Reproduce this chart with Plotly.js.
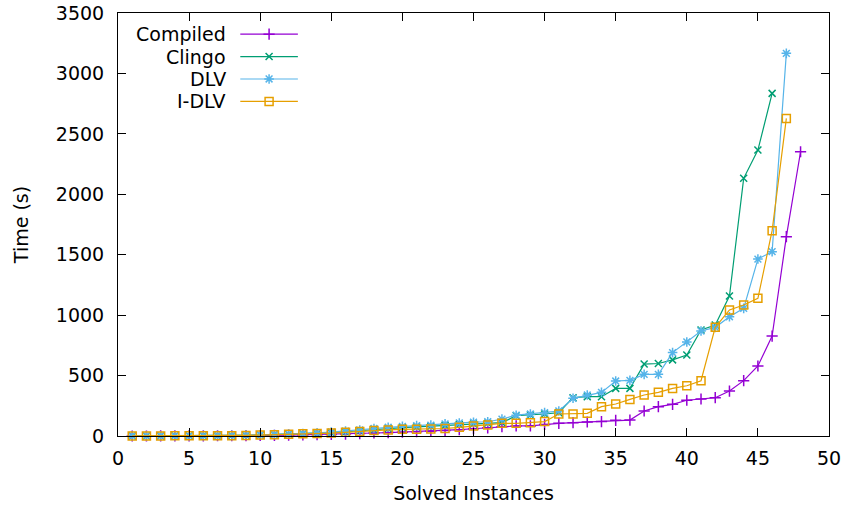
<!DOCTYPE html>
<html>
<head>
<meta charset="utf-8">
<script src="https://cdn.plot.ly/plotly-3.0.1.min.js"></script>
<style>html,body{margin:0;padding:0;background:#fff;}#chart{width:847px;height:506px;}</style>
</head>
<body>
<div id="chart"></div>
<script>
const seriesNames = ["Compiled", "Clingo", "DLV", "I-DLV"];
const compiled = [0,0,1,1,1,1,2,2,3,4,5,7,9,11,13,16,20,25,28,32,36,40,45,52,60,68,77,83,83,96,105,110,116,119,130,132,207,243,262,296,306,317,372,458,579,827,1649,2352];
const clingo = [1,1,1,2,2,3,3,4,6,9,12,15,19,23,28,35,44,55,63,70,75,80,88,95,100,105,110,168,173,182,193,317,325,325,394,394,595,600,630,670,877,918,1158,2132,2366,2835];
const dlv = [1,1,2,2,3,3,4,5,7,10,13,17,21,26,32,40,50,62,72,80,86,90,100,108,114,118,140,172,182,193,207,312,339,361,455,460,510,510,690,778,869,899,987,1056,1464,1525,3166];
const idlv = [1,1,1,2,2,2,3,3,5,8,10,14,18,20,24,30,38,46,50,55,56,58,62,72,83,92,105,105,110,119,182,182,188,243,265,303,339,361,394,416,457,899,1043,1084,1139,1699,2628];
const xTicks = [0,5,10,15,20,25,30,35,40,45,50];
const yTicks = [0,500,1000,1500,2000,2500,3000,3500];

const allValues = [compiled, clingo, dlv, idlv];
const colors = ["#9400d3", "#009e73", "#56b4e9", "#e69f00"];
const symbols = ["cross-thin-open", "x-thin-open", "asterisk-open", "square-open"];
const msizes = [8, 7, 8, 8];
const FS = 19;

const traces = allValues.map((vals, i) => ({
  x: vals.map((_, k) => k + 1),
  y: vals,
  type: "scatter",
  mode: "lines+markers",
  name: seriesNames[i],
  line: {color: colors[i], width: 1.2},
  marker: {symbol: symbols[i], size: msizes[i], color: colors[i], line: {color: colors[i], width: 1.5}},
  showlegend: false,
  cliponaxis: false,
  xaxis: "x", yaxis: "y"
}));

// gnuplot-style legend: text on the left, sample on the right
const legendTop = 0.95, legendStep = 0.053;
seriesNames.forEach((nm, i) => {
  const yy = legendTop - i * legendStep;
  traces.push({
    x: [0.172, 0.2125, 0.253], y: [yy, yy, yy],
    type: "scatter", mode: "lines", line: {color: colors[i], width: 1.2},
    xaxis: "x2", yaxis: "y2", showlegend: false, hoverinfo: "skip"
  });
  traces.push({
    x: [0.2125], y: [yy],
    type: "scatter", mode: "markers",
    marker: {symbol: symbols[i], size: msizes[i], color: colors[i], line: {color: colors[i], width: 1.5}},
    xaxis: "x2", yaxis: "y2", showlegend: false, hoverinfo: "skip"
  });
});

const annotations = seriesNames.map((nm, i) => ({
  xref: "x2", yref: "y2", x: 0.155, y: legendTop - i * legendStep,
  text: nm, showarrow: false, xanchor: "right", yanchor: "middle",
  font: {family: "DejaVu Sans", size: FS, color: "#000"}
}));

const axisCommon = {
  showgrid: false, zeroline: false, showline: true, linecolor: "#000", linewidth: 1,
  mirror: "allticks", ticks: "inside", ticklen: 8, tickcolor: "#000", tickwidth: 1,
  tickfont: {family: "DejaVu Sans", size: FS, color: "#000"}
};

const layout = {
  width: 847, height: 506,
  margin: {l: 118, r: 18, t: 13, b: 70},
  paper_bgcolor: "#fff", plot_bgcolor: "#fff",
  font: {family: "DejaVu Sans", size: FS, color: "#000"},
  xaxis: Object.assign({}, axisCommon, {
    range: [0, 50], tickvals: xTicks, ticktext: xTicks.map(String), ticklabelstandoff: 5,
    title: {text: "Solved Instances", font: {family: "DejaVu Sans", size: FS}, standoff: 18}
  }),
  yaxis: Object.assign({}, axisCommon, {
    range: [0, 3500], tickvals: yTicks, ticktext: yTicks.map(String), ticklabelstandoff: 9,
    title: {text: "Time (s)", font: {family: "DejaVu Sans", size: FS}, standoff: 22}
  }),
  xaxis2: {overlaying: "x", range: [0, 1], visible: false, fixedrange: true},
  yaxis2: {overlaying: "y", range: [0, 1], visible: false, fixedrange: true},
  annotations: annotations,
  showlegend: false
};

Plotly.newPlot("chart", traces, layout, {displayModeBar: false, staticPlot: true});
</script>
</body>
</html>
